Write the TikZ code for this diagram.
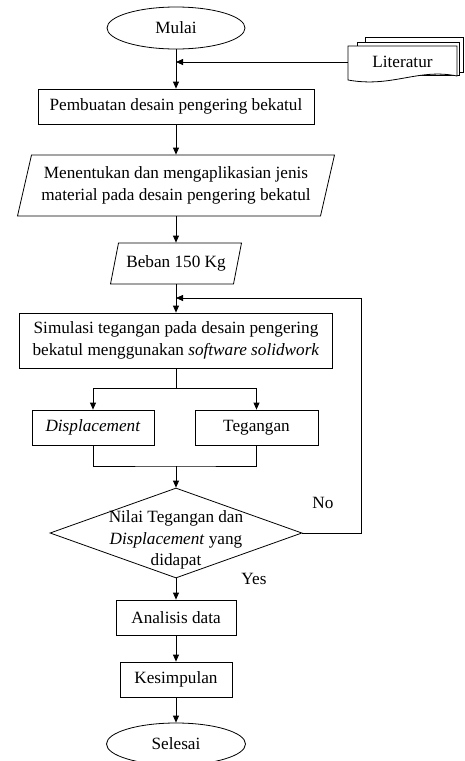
\documentclass[tikz,border=0pt]{standalone}
\usepackage{fontspec}
\setmainfont{Liberation Serif}
\usetikzlibrary{shapes.geometric,arrows.meta}
\begin{document}
\begin{tikzpicture}[x=1pt,y=-1pt, line width=0.8pt,
  font=\fontsize{17.2}{21.5}\selectfont,
  arr/.style={-{Triangle[length=7pt,width=6pt]}},
  box/.style={draw, rectangle, inner sep=2pt, align=center},
  term/.style={draw, ellipse, inner sep=0pt},
  txt/.style={inner sep=0pt, align=center}]
\useasboundingbox (0,0) rectangle (464,761);

% terminals
\node[term, minimum width=138pt, minimum height=42pt] (mulai) at (176,28) {Mulai};

% Literatur (multi-document)
\draw[fill=white] (365,37) rectangle (463,72);
\draw[fill=white] (357,42) rectangle (459,75);
\draw[fill=white] (348,46) -- (457,46) -- (457,76) .. controls (418,68) and (392,88) .. (348,80) -- cycle;
\node[txt, minimum width=109pt, minimum height=32pt] (lit) at (402.5,62) {Literatur};

% process boxes
\node[box, minimum width=276pt, minimum height=35pt] (b1) at (176,106.5) {Pembuatan desain pengering bekatul};

% parallelogram 1
\draw (31.5,155) -- (334.5,155) -- (320.5,216) -- (17.5,216) -- cycle;
\node[txt, minimum width=290pt, minimum height=61pt] (p1) at (176,185.5) {Menentukan dan mengaplikasian jenis\\material pada desain pengering bekatul};

% parallelogram 2
\draw (118.5,243) -- (241.5,243) -- (233.5,284) -- (110.5,284) -- cycle;
\node[txt, minimum width=110pt, minimum height=41pt] (p2) at (176,263.5) {Beban 150 Kg};

\node[box, minimum width=313pt, minimum height=55pt] (sim) at (176,340.5) {Simulasi tegangan pada desain pengering\\bekatul menggunakan \textit{software solidwork}};

\node[box, minimum width=122pt, minimum height=35pt] (disp) at (93,427.5) {\textit{Displacement}};
\node[box, minimum width=123pt, minimum height=35pt] (teg) at (256.5,427.5) {Tegangan};

% decision
\node[draw, diamond, minimum width=252pt, minimum height=90pt, inner sep=0pt] (dec) at (176,533) {};
\node[txt] (dect) at (176,540) {Nilai Tegangan dan\\\textit{Displacement} yang\\didapat};
\node[txt] (no) at (323,503) {No};
\node[txt] (yes) at (254,579) {Yes};

\node[box, minimum width=120pt, minimum height=35pt] (ana) at (176,617.5) {Analisis data};
\node[box, minimum width=112pt, minimum height=35pt] (kes) at (176,679.5) {Kesimpulan};
\node[term, minimum width=139pt, minimum height=42pt] (sel) at (176,744) {Selesai};

% connectors
\draw[arr] (mulai.south) -- (b1.north);
\draw[arr] (lit.west) -- (lit.west -| mulai.south);
\draw[arr] (b1.south) -- (p1.north);
\draw[arr] (p1.south) -- (p2.north);
\draw[arr] (p2.south) -- (sim.north);

\coordinate (s1) at (176,388);
\draw (sim.south) -- (s1);
\draw[arr] (s1) -| (disp.north);
\draw[arr] (s1) -| (teg.north);

\coordinate (m1) at (176,466);
\draw (disp.south) |- (m1) -| (teg.south);
\draw[arr] (m1) -- (dec.north);

\coordinate (fb) at (361,298);
\draw[arr] (dec.east) -| (fb) -- (fb -| p2.south);

\draw[arr] (dec.south) -- (ana.north);
\draw[arr] (ana.south) -- (kes.north);
\draw[arr] (kes.south) -- (sel.north);
\end{tikzpicture}
\end{document}
